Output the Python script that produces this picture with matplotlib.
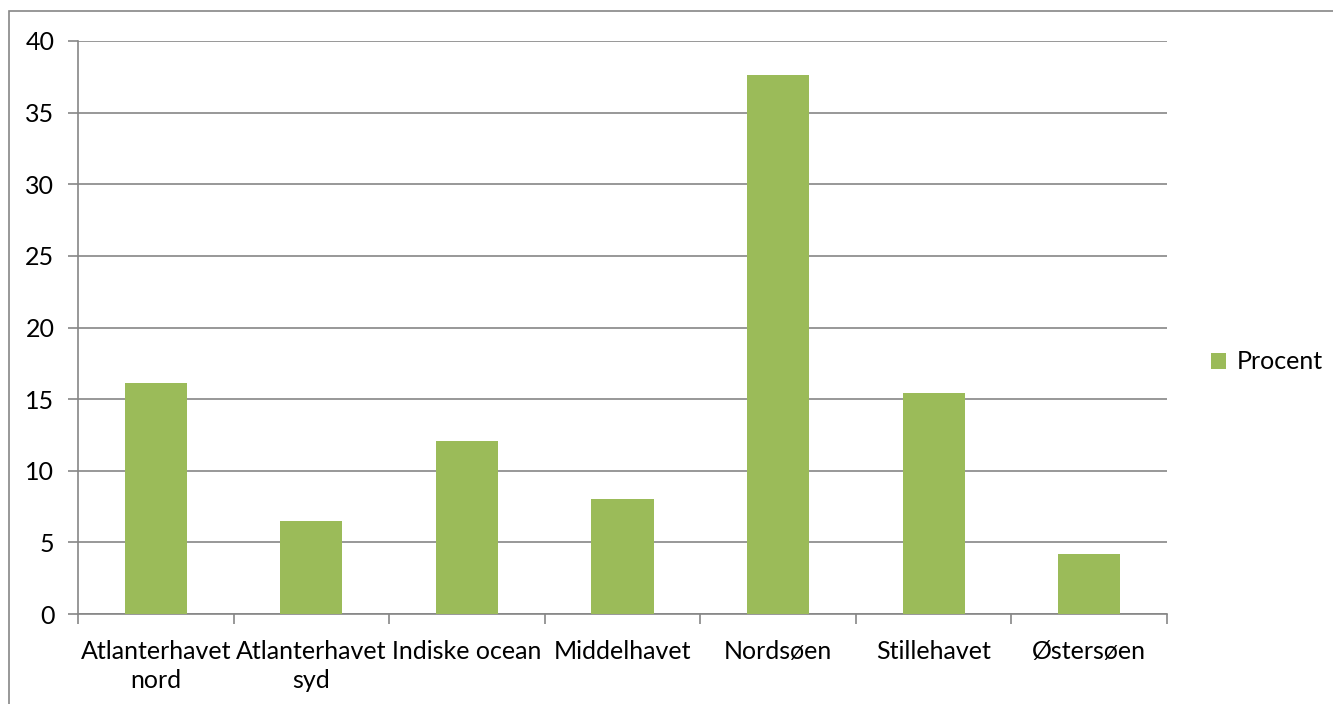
import matplotlib.pyplot as plt
import numpy as np
from matplotlib.patches import Rectangle

# ocean areas and percentage shares
categories = ['Atlanterhavet\nnord', 'Atlanterhavet\nsyd', 'Indiske ocean',
              'Middelhavet', 'Nordsøen', 'Stillehavet', 'Østersøen']
procent = [16.1, 6.5, 12.1, 8.0, 37.6, 15.4, 4.2]

plt.rcParams['font.family'] = ['Lato', 'DejaVu Sans']
grey = '#868686'
green = '#9BBB59'
fs = 18

fig = plt.figure(figsize=(13.33, 7.04), dpi=100)
ax = fig.add_axes([78/1333, 1 - 614/704, (1167-78)/1333, (614-41)/704])

x = np.arange(len(categories)) + 0.5
ax.bar(x, procent, width=0.4, color=green, label='Procent', zorder=3)

ax.set_xlim(0, len(categories))
ax.set_ylim(0, 40)
ax.set_yticks(np.arange(0, 41, 5))
ax.set_xticks(np.arange(0, len(categories) + 1))
ax.set_xticklabels([])
ax.set_xticks(x, minor=True)
ax.set_xticklabels(categories, minor=True, fontsize=fs, linespacing=1.3)
ax.tick_params(axis='x', which='minor', length=0, pad=19)
ax.tick_params(axis='x', which='major', length=7, color=grey, width=1.2)
ax.tick_params(axis='y', length=7, color=grey, width=1.2, labelsize=fs, pad=10)

ax.yaxis.grid(True, color=grey, linewidth=1.2, zorder=0)
for side in ['top', 'right']:
    ax.spines[side].set_visible(False)
for side in ['left', 'bottom']:
    ax.spines[side].set_color(grey)
    ax.spines[side].set_linewidth(1.2)

ax.legend(loc='center left', bbox_to_anchor=(1.02, 0.44), frameon=False,
          fontsize=fs, handlelength=0.6, handleheight=0.6, handletextpad=0.4)

# outer chart border (only left and top edges fall inside the picture)
fig.patches.append(Rectangle((9/1333, -0.1), 1.1, 1.1 - 11/704,
                             transform=fig.transFigure, fill=False,
                             edgecolor=grey, linewidth=1.2))

fig.savefig('out.png', dpi=100)
